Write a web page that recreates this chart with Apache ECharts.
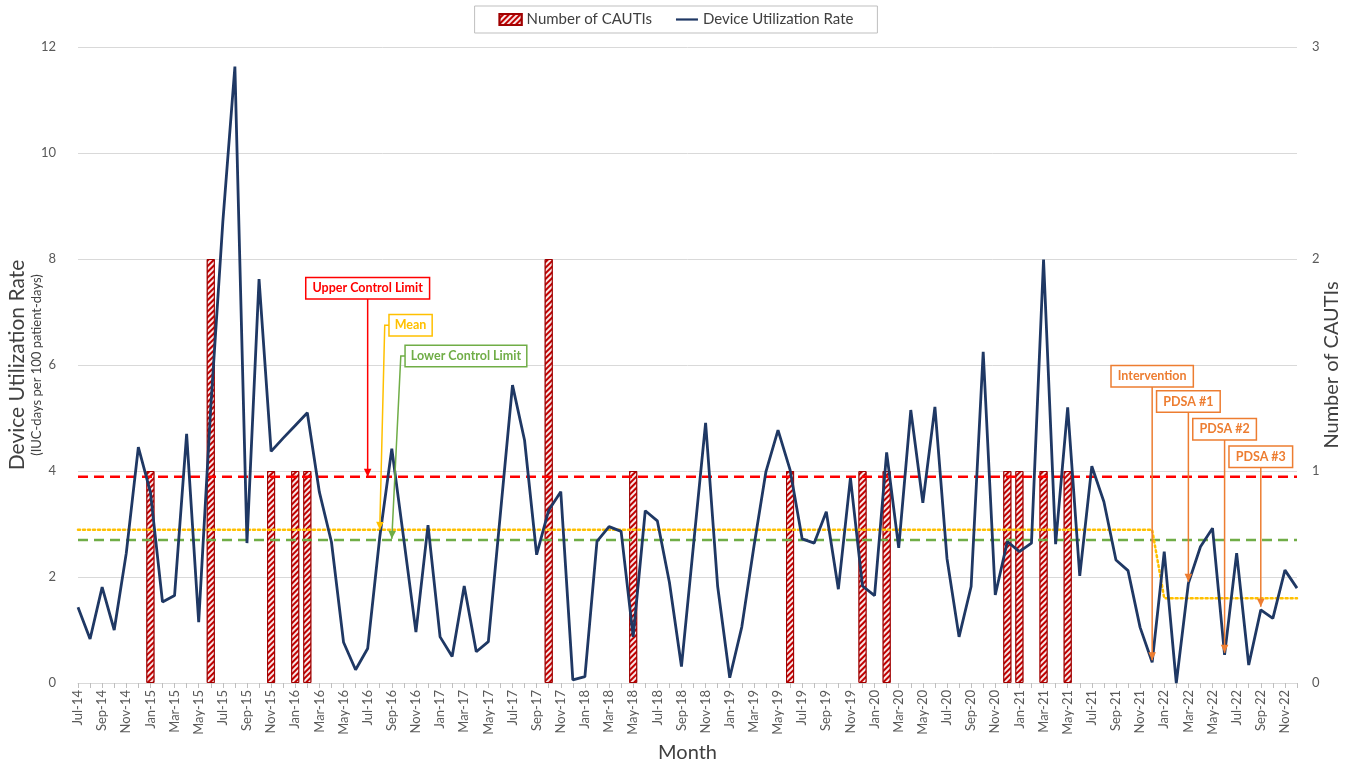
<!DOCTYPE html>
<html><head><meta charset="utf-8">
<script src="https://cdn.jsdelivr.net/npm/echarts@6/dist/echarts.min.js"></script>
<style>html,body{margin:0;padding:0;background:#fff}#c{width:1352px;height:763px}</style>
</head><body><div id="c"></div>
<script>
const months = [
 'Jul-14','Aug-14','Sep-14','Oct-14','Nov-14','Dec-14',
 'Jan-15','Feb-15','Mar-15','Apr-15','May-15','Jun-15','Jul-15','Aug-15','Sep-15','Oct-15','Nov-15','Dec-15',
 'Jan-16','Feb-16','Mar-16','Apr-16','May-16','Jun-16','Jul-16','Aug-16','Sep-16','Oct-16','Nov-16','Dec-16',
 'Jan-17','Feb-17','Mar-17','Apr-17','May-17','Jun-17','Jul-17','Aug-17','Sep-17','Oct-17','Nov-17','Dec-17',
 'Jan-18','Feb-18','Mar-18','Apr-18','May-18','Jun-18','Jul-18','Aug-18','Sep-18','Oct-18','Nov-18','Dec-18',
 'Jan-19','Feb-19','Mar-19','Apr-19','May-19','Jun-19','Jul-19','Aug-19','Sep-19','Oct-19','Nov-19','Dec-19',
 'Jan-20','Feb-20','Mar-20','Apr-20','May-20','Jun-20','Jul-20','Aug-20','Sep-20','Oct-20','Nov-20','Dec-20',
 'Jan-21','Feb-21','Mar-21','Apr-21','May-21','Jun-21','Jul-21','Aug-21','Sep-21','Oct-21','Nov-21','Dec-21',
 'Jan-22','Feb-22','Mar-22','Apr-22','May-22','Jun-22','Jul-22','Aug-22','Sep-22','Oct-22','Nov-22','Dec-22'
];
const utilizationRate = [
 1.43,0.83,1.81,1.00,2.45,4.45,
 3.60,1.53,1.65,4.70,1.15,5.20,8.70,11.63,2.64,7.62,4.37,4.62,
 4.86,5.10,3.60,2.66,0.77,0.25,0.65,2.75,4.42,2.70,0.96,2.98,
 0.87,0.50,1.83,0.59,0.78,3.20,5.62,4.58,2.42,3.26,3.61,0.06,
 0.12,2.67,2.95,2.86,0.87,3.25,3.06,1.90,0.31,2.61,4.91,1.82,
 0.10,1.06,2.57,3.99,4.77,4.02,2.72,2.64,3.23,1.77,3.87,1.83,
 1.65,4.35,2.55,5.15,3.40,5.21,2.35,0.87,1.82,6.25,1.66,2.67,
 2.48,2.64,7.99,2.62,5.20,2.02,4.09,3.42,2.32,2.12,1.05,0.39,
 2.48,0.00,1.88,2.57,2.92,0.53,2.45,0.34,1.38,1.22,2.13,1.79
];
const cautiCount = [
 0,0,0,0,0,0,
 1,0,0,0,0,2,0,0,0,0,1,0,
 1,1,0,0,0,0,0,0,0,0,0,0,
 0,0,0,0,0,0,0,0,0,2,0,0,
 0,0,0,0,1,0,0,0,0,0,0,0,
 0,0,0,0,0,1,0,0,0,0,0,1,
 0,1,0,0,0,0,0,0,0,0,0,1,
 1,0,1,0,1,0,0,0,0,0,0,0,
 0,0,0,0,0,0,0,0,0,0,0,0
];
const upperControlLimit = 3.89;
const lowerControlLimit = 2.70;
const meanSegments = [
 {from:'Jul-14', to:'Dec-21', value:2.89},
 {from:'Jan-22', to:'Dec-22', value:1.60}
];
const leftTicks = {min:0, max:12, interval:2};
const rightTicks = {min:0, max:3, interval:1};
const annotations = [
 {text:'Upper Control Limit', color:'#FF0000', month:'Jul-16', value:3.89, boxValue:7.45, kind:'down'},
 {text:'Mean', color:'#FFC000', month:'Aug-16', value:2.89, boxValue:6.75, kind:'side', dx:10},
 {text:'Lower Control Limit', color:'#70AD47', month:'Sep-16', value:2.72, boxValue:6.17, kind:'side', dx:14},
 {text:'Intervention', color:'#ED7D31', month:'Dec-21', value:0.43, boxValue:5.79, kind:'down'},
 {text:'PDSA #1', color:'#ED7D31', month:'Mar-22', value:1.91, boxValue:5.31, kind:'down'},
 {text:'PDSA #2', color:'#ED7D31', month:'Jun-22', value:0.57, boxValue:4.79, kind:'down'},
 {text:'PDSA #3', color:'#ED7D31', month:'Sep-22', value:1.44, boxValue:4.27, kind:'down'}
];

const FONT = 'Lato, "Open Sans", sans-serif';
const chart = echarts.init(document.getElementById('c'), null, {renderer:'canvas'});
const meanData = [];
meanSegments.forEach(s => { meanData.push([s.from, s.value]); meanData.push([s.to, s.value]); });
const first = months[0], last = months[months.length-1];

chart.setOption({
  animation:false,
  textStyle:{fontFamily:FONT},
  grid:{left:78, right:55, top:47, bottom:80, containLabel:false, outerBoundsMode:'none'},
  legend:{
    data:[{name:'Number of CAUTIs', icon:'rect'},
          {name:'Device Utilization Rate', icon:'path://M0 0H30V3H0Z', itemStyle:{color:'#1F3864'}}],
    top:6, left:'center', borderColor:'#BFBFBF', borderWidth:1, padding:[6,24,6,24],
    itemGap:24, itemWidth:22, itemHeight:11,
    textStyle:{fontSize:15, color:'#404040', fontFamily:FONT}
  },
  xAxis:{
    type:'category', data:months, boundaryGap:false,
    name:'Month', nameLocation:'middle', nameGap:60, nameMoveOverlap:false,
    nameTextStyle:{fontSize:20, color:'#404040', fontFamily:FONT},
    axisLine:{lineStyle:{color:'#D9D9D9', width:1}},
    axisTick:{show:true, interval:0, length:5, lineStyle:{color:'#BFBFBF'}},
    axisLabel:{interval:1, rotate:90, fontSize:13, color:'#595959', margin:7, fontFamily:FONT},
    splitLine:{show:false}
  },
  yAxis:[
    {type:'value', min:leftTicks.min, max:leftTicks.max, interval:leftTicks.interval,
     name:'{t|Device Utilization Rate}\n{s|(IUC-days per 100 patient-days)}',
     nameLocation:'middle', nameGap:34, nameMoveOverlap:false,
     nameTextStyle:{rich:{t:{fontSize:21, color:'#404040', fontFamily:FONT, lineHeight:24},
                          s:{fontSize:13, color:'#404040', fontFamily:FONT, lineHeight:15}}},
     axisLine:{show:false}, axisTick:{show:false},
     axisLabel:{fontSize:13, color:'#595959', margin:22, fontFamily:FONT},
     splitLine:{lineStyle:{color:'#D9D9D9', width:1}}},
    {type:'value', min:rightTicks.min, max:rightTicks.max, interval:rightTicks.interval,
     name:'Number of CAUTIs', nameLocation:'middle', nameGap:25, nameMoveOverlap:false,
     nameTextStyle:{fontSize:20, color:'#404040', fontFamily:FONT},
     axisLine:{show:false}, axisTick:{show:false},
     axisLabel:{fontSize:13, color:'#595959', margin:15, fontFamily:FONT},
     splitLine:{show:false}}
  ],
  series:[
    {name:'Number of CAUTIs', type:'bar', yAxisIndex:1, barWidth:8, z:2,
     data:cautiCount.map(v => v === 0 ? null : v),
     itemStyle:{color:'#C00000', borderColor:'#A00000', borderWidth:1,
       decal:{symbol:'rect', symbolSize:1, dashArrayX:[1,0], dashArrayY:[2,2],
              rotation:-Math.PI/4, color:'rgba(255,255,255,0.9)'}}},
    {name:'Upper Control Limit', type:'line', yAxisIndex:0, z:3, symbol:'none', silent:true,
     data:[[first, upperControlLimit],[last, upperControlLimit]],
     lineStyle:{color:'#FF0000', width:2.5, type:[10,6]}},
    {name:'Lower Control Limit', type:'line', yAxisIndex:0, z:3, symbol:'none', silent:true,
     data:[[first, lowerControlLimit],[last, lowerControlLimit]],
     lineStyle:{color:'#70AD47', width:2.5, type:[10,6]}},
    {name:'Mean', type:'line', yAxisIndex:0, z:3, symbol:'none', silent:true,
     data:meanData,
     lineStyle:{color:'#FFC000', width:2.5, type:[2,3], cap:'round'}},
    {name:'Device Utilization Rate', type:'line', yAxisIndex:0, z:4, symbol:'none',
     data:utilizationRate,
     itemStyle:{color:'#1F3864'},
     lineStyle:{color:'#1F3864', width:2.8}}
  ]
});

function drawAnnotations(){
  const g = [];
  const px = (m, v) => chart.convertToPixel({xAxisIndex:0, yAxisIndex:0}, [months.indexOf(m), v]);
  const font = 'bold 12.5px ' + FONT;
  annotations.forEach(a => {
    const tip = px(a.month, a.value);
    const boxC = px(a.month, a.boxValue);
    let pts;
    if (a.kind === 'down') {
      g.push({type:'text', z:100, style:{text:a.text, x:tip[0], y:boxC[1], align:'center', verticalAlign:'middle',
        font:font, fill:a.color, backgroundColor:'#fff', borderColor:a.color, borderWidth:1.5, padding:[4,6,3,6]}});
      pts = [[tip[0], boxC[1] + 10.5], [tip[0], tip[1]]];
    } else {
      const bx = tip[0] + a.dx;
      g.push({type:'text', z:100, style:{text:a.text, x:bx, y:boxC[1], align:'left', verticalAlign:'middle',
        font:font, fill:a.color, backgroundColor:'#fff', borderColor:a.color, borderWidth:1.5, padding:[4,5,3,5]}});
      pts = [[bx, boxC[1]], [bx - 5, boxC[1]], [tip[0], tip[1]]];
    }
    g.push({type:'polyline', z:99, shape:{points:pts}, style:{stroke:a.color, lineWidth:1.5, fill:null}});
    const p1 = pts[pts.length-2], p2 = pts[pts.length-1];
    const ang = Math.atan2(p2[1]-p1[1], p2[0]-p1[0]);
    const L = 8, W = 3.8;
    const bxp = p2[0] - L*Math.cos(ang), byp = p2[1] - L*Math.sin(ang);
    const nx = -Math.sin(ang)*W, ny = Math.cos(ang)*W;
    g.push({type:'polygon', z:99, shape:{points:[[p2[0],p2[1]],[bxp+nx,byp+ny],[bxp-nx,byp-ny]]},
      style:{fill:a.color, stroke:null}});
  });
  chart.setOption({graphic:g});
}
drawAnnotations();
</script></body></html>
